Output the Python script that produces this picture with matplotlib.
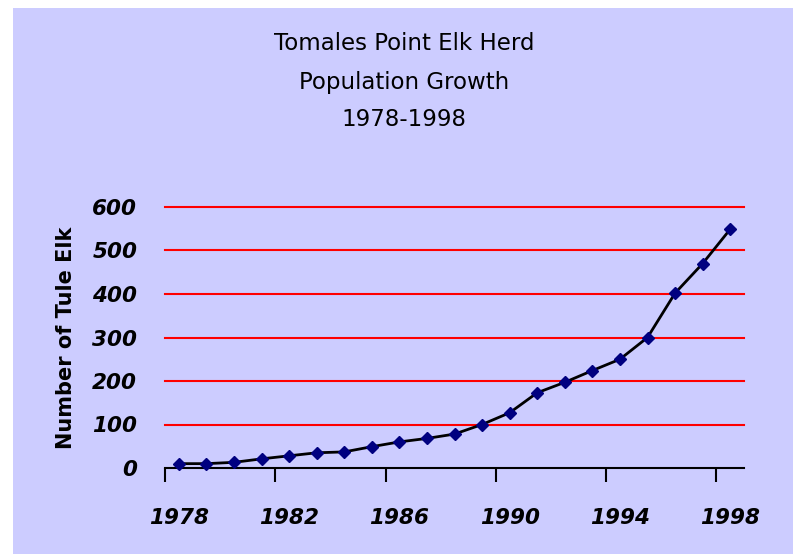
import matplotlib
matplotlib.use("Agg")
import matplotlib.pyplot as plt
from matplotlib.patches import Rectangle

# Tule elk counts, one per year
years = list(range(1978, 1999))
elk = [10, 10, 13, 21, 28, 35, 37, 49, 60, 68, 78, 100, 127, 173, 197, 224, 250, 300, 402, 470, 549]
y_ticks = [0, 100, 200, 300, 400, 500, 600]
title_lines = ["Tomales Point Elk Herd", "Population Growth", "1978-1998"]

bg = "#ccccff"

fig = plt.figure(figsize=(8.02, 5.54), dpi=100)
fig.patch.set_facecolor("white")
# lavender panel with a thin white margin
fig.patches.append(Rectangle((13 / 802, 0), (793 - 13) / 802, 1 - 8 / 554,
                             transform=fig.transFigure, facecolor=bg,
                             edgecolor="none", zorder=-10))

ax = fig.add_axes([165 / 802, 1 - 468 / 554, (744 - 165) / 802, (468 - 207) / 554])
ax.set_facecolor(bg)

# category axis: points sit in the middle of each slot
xpos = [i + 0.5 for i in range(len(years))]
ax.plot(xpos, elk, color="black", lw=2, zorder=3)
ax.plot(xpos, elk, ls="none", marker="D", ms=6, color="#000080", zorder=4, clip_on=False)

ax.set_xlim(0, len(years))
ax.set_ylim(0, 600)

for v in y_ticks[1:]:
    ax.axhline(v, color="#ff0000", lw=1.5, zorder=1, clip_on=False)

for s in ["top", "right", "left"]:
    ax.spines[s].set_visible(False)
ax.spines["bottom"].set_linewidth(1.5)

tick_font = dict(family="DejaVu Sans", weight="bold", style="italic", size=15.5)

ax.set_yticks(y_ticks)
ax.set_yticklabels([str(v) for v in y_ticks], fontdict=tick_font)
ax.tick_params(axis="y", length=0, pad=20)

ax.set_xticks(range(0, len(years), 4))
ax.set_xticklabels([])
ax.tick_params(axis="x", which="major", direction="out", length=10, width=1.5)
ax.set_xticks([xpos[i] for i in range(0, len(years), 4)], minor=True)
ax.set_xticklabels([str(years[i]) for i in range(0, len(years), 4)], minor=True,
                   fontdict=tick_font)
ax.tick_params(axis="x", which="minor", length=0, pad=29)

ax.set_ylabel("Number of Tule Elk", fontsize=15, fontweight="bold", labelpad=12)

for i, line in enumerate(title_lines):
    fig.text(404 / 802, 1 - (44 + i * 38) / 554, line, ha="center", va="center",
             fontsize=16.5)

fig.savefig("out.png", dpi=100, facecolor=fig.get_facecolor())
